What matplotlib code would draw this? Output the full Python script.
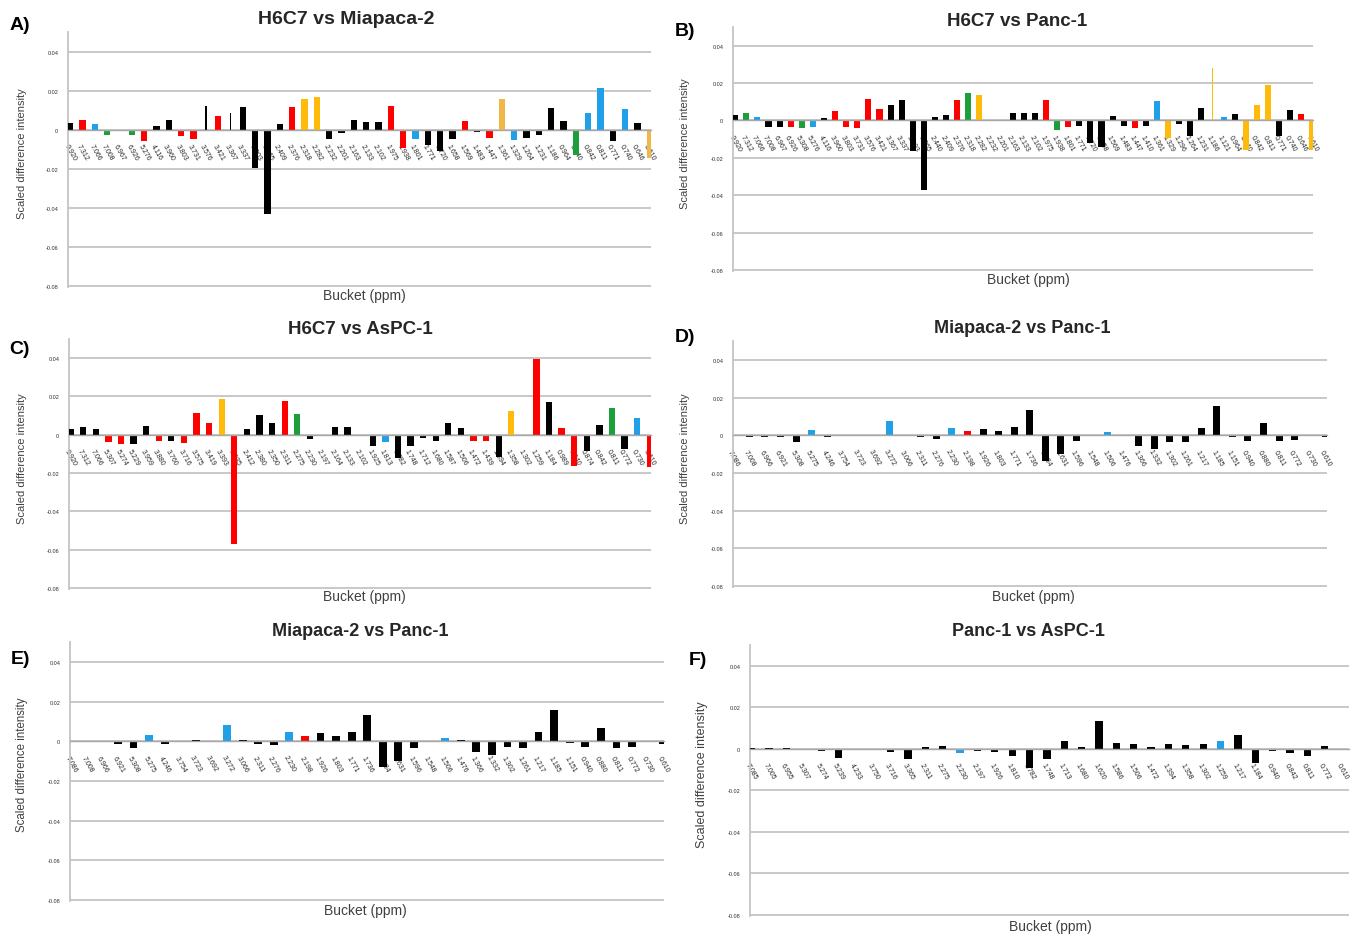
import numpy as np
import matplotlib.pyplot as plt

plt.rcParams['font.family'] = ['Liberation Sans', 'DejaVu Sans']

# bar colour codes: k black, r red, b blue, g green, o orange, y pale orange
COLORS = {'k': '#000000', 'r': '#FF0000', 'b': '#1FA0E8', 'g': '#1C9E3A',
          'o': '#FFBA0A', 'y': '#F0B846'}

# ---- A) H6C7 vs Miapaca-2 ----
buckets_a = ["9.920", "7.312", "7.066", "7.008", "6.967", "6.926", "5.276", "4.116", "3.960", "3.803",
             "3.731", "3.576", "3.421", "3.367", "3.337", "3.203", "3.065", "2.409", "2.376", "2.318",
             "2.282", "2.232", "2.201", "2.163", "2.133", "2.102", "1.975", "1.938", "1.801", "1.771",
             "1.720", "1.658", "1.569", "1.483", "1.447", "1.361", "1.329", "1.264", "1.231", "1.186",
             "0.964", "0.940", "0.842", "0.811", "0.771", "0.740", "0.646", "0.610"]
diff_a = [0.0033, 0.005, 0.003, -0.0025, 0.0, -0.0025, -0.006, 0.002, 0.005, -0.003,
          -0.005, 0.012, 0.007, 0.0083, 0.0115, -0.0195, -0.0432, 0.003, 0.0115, 0.0155,
          0.0165, -0.005, -0.0015, 0.005, 0.004, 0.004, 0.012, -0.0095, -0.005, -0.008,
          -0.011, -0.005, 0.0045, -0.001, -0.004, 0.0155, -0.0055, -0.0045, -0.0025, 0.011,
          0.0045, -0.013, 0.0085, 0.0214, -0.006, 0.0105, 0.0035, -0.0145]
colors_a = "krbgkgrkkr" "rkrkkkkkro" "okkkkkrrbk" "kkrkrybkkk" "kgbbkbky"

# ---- B) H6C7 vs Panc-1 ----
buckets_b = ["9.920", "7.312", "7.066", "7.008", "6.967", "6.926", "5.308", "5.276", "4.116", "3.960",
             "3.803", "3.731", "3.576", "3.421", "3.367", "3.337", "3.203", "3.065", "2.440", "2.409",
             "2.376", "2.318", "2.282", "2.232", "2.201", "2.163", "2.133", "2.102", "1.975", "1.938",
             "1.801", "1.771", "1.720", "1.658", "1.569", "1.483", "1.447", "1.410", "1.361", "1.329",
             "1.296", "1.264", "1.231", "1.186", "1.121", "0.964", "0.940", "0.842", "0.811", "0.771",
             "0.740", "0.646", "0.610"]
diff_b = [0.0032, 0.0039, 0.002, -0.0034, -0.0034, -0.0034, -0.0039, -0.0034, 0.0015, 0.005,
          -0.0034, -0.0042, 0.0115, 0.0064, 0.0081, 0.011, -0.0165, -0.0373, 0.002, 0.003,
          0.011, 0.0145, 0.0136, -0.0003, 0.0, 0.004, 0.004, 0.004, 0.011, -0.0051,
          -0.0034, -0.003, -0.0119, -0.0142, 0.0025, -0.003, -0.0038, -0.003, 0.0104, -0.0094,
          -0.002, -0.0083, 0.0067, 0.028, 0.002, 0.0033, -0.0159, 0.0081, 0.0191, -0.0083,
          0.0055, 0.0035, -0.0159]
colors_b = "kgbkkrgbkr" "rrrrkkkkkk" "rgokkkkkrg" "rkkkkkrkbo" "kkkobkoook" "kro"

# ---- C) H6C7 vs AsPC-1 ----
buckets_c = ["9.920", "7.312", "7.066", "5.307", "5.274", "5.229", "3.959", "3.880", "3.760", "3.716",
             "3.575", "3.419", "3.393", "3.035", "2.412", "2.380", "2.350", "2.311", "2.275", "2.230",
             "2.197", "2.164", "2.133", "2.102", "1.925", "1.813", "1.782", "1.748", "1.712", "1.680",
             "1.587", "1.506", "1.472", "1.439", "1.394", "1.358", "1.302", "1.259", "1.184", "0.989",
             "0.940", "0.874", "0.842", "0.811", "0.772", "0.730", "0.610"]
diff_c = [0.0031, 0.0042, 0.0028, -0.004, -0.0047, -0.0047, 0.0047, -0.0033, -0.0035, -0.0045,
          0.0113, 0.0062, 0.0185, -0.057, 0.0028, 0.0104, 0.0064, 0.0177, 0.0107, -0.0024,
          -0.0006, 0.0042, 0.0042, 0.0, -0.006, -0.004, -0.0121, -0.006, -0.0017, -0.0035,
          0.006, 0.0036, -0.0033, -0.0033, -0.0116, 0.0123, 0.0, 0.0393, 0.0173, 0.0035,
          -0.0165, -0.0083, 0.005, 0.014, -0.0074, 0.0087, -0.017]
colors_c = "kkkrrkkrkr" "rrorkkkrgk" "kkkkkbkkkk" "kkrrkokrkr" "rkkgkbr"

# ---- D) Miapaca-2 vs Panc-1 ----
buckets_d = ["7.086", "7.008", "6.966", "6.921", "5.308", "5.275", "4.246", "3.754", "3.723", "3.692",
             "3.272", "3.066", "2.311", "2.276", "2.230", "2.198", "1.926", "1.803", "1.771", "1.736",
             "1.684", "1.631", "1.596", "1.548", "1.506", "1.476", "1.366", "1.332", "1.302", "1.261",
             "1.217", "1.185", "1.151", "0.940", "0.880", "0.811", "0.772", "0.730", "0.610"]
diff_d = [0.0, -0.0008, -0.001, -0.001, -0.0035, 0.003, -0.001, 0.0, 0.0, 0.0,
          0.0076, 0.0, -0.001, -0.002, 0.004, 0.0021, 0.0035, 0.0025, 0.0046, 0.0133,
          -0.0135, -0.0101, -0.0032, 0.0, 0.0015, 0.0, -0.0055, -0.0074, -0.0035, -0.0035,
          0.004, 0.0156, -0.001, -0.003, 0.0064, -0.003, -0.0025, -0.0005, -0.0008]
colors_d = "kkkkkbkkkk" "bkkkbrkkkk" "kkkkbkkkkk" "kkkkkkkkk"

# ---- E) Miapaca-2 vs Panc-1 ----
buckets_e = list(buckets_d)
diff_e = [-0.0005, -0.0003, -0.0003, -0.0015, -0.0035, 0.0029, -0.0015, -0.0003, 0.0007, -0.0003,
          0.0082, 0.0005, -0.0015, -0.0018, 0.0047, 0.0025, 0.0043, 0.0025, 0.0047, 0.0134,
          -0.0131, -0.010, -0.0032, -0.0003, 0.0015, 0.0008, -0.0052, -0.0071, -0.003, -0.0035,
          0.0047, 0.0155, -0.001, -0.003, 0.0067, -0.0032, -0.0028, -0.0003, -0.0015]
colors_e = colors_d

# ---- F) Panc-1 vs AsPC-1 ----
buckets_f = ["7.085", "7.005", "6.955", "5.307", "5.274", "5.239", "4.233", "3.750", "3.716", "3.365",
             "2.311", "2.275", "2.230", "2.197", "1.926", "1.810", "1.782", "1.748", "1.713", "1.680",
             "1.620", "1.586", "1.506", "1.472", "1.394", "1.358", "1.302", "1.259", "1.217", "1.184",
             "0.940", "0.842", "0.811", "0.772", "0.610"]
diff_f = [0.0003, 0.0005, 0.0005, 0.0, -0.001, -0.0043, -0.0005, 0.0, -0.0017, -0.0048,
          0.0008, 0.0013, -0.0022, -0.001, -0.0013, -0.0035, -0.009, -0.0051, 0.0038, 0.0008,
          0.0134, 0.003, 0.0022, 0.0008, 0.0022, 0.0018, 0.0022, 0.0038, 0.0067, -0.0069,
          -0.001, -0.0022, -0.0035, 0.0013, -0.0008]
colors_f = "kkkkkkkkkk" "kkbkkkkkkk" "kkkkkkkbkk" "kkkkk"

y_ticks = [-0.08, -0.06, -0.04, -0.02, 0, 0.02, 0.04]
y_ticklabels = ['-0.08', '-0.06', '-0.04', '-0.02', '0', '0.02', '0.04']

W, H = 1361, 937
fig = plt.figure(figsize=(W / 100, H / 100), dpi=100)


def rect(left, top, right, bottom):
    return [left / W, 1 - bottom / H, (right - left) / W, (bottom - top) / H]


# letter, title, data, axes box (px), xlim pads, bar width, thin bars,
# title/label anchor points (px), fonts
panels = [
    dict(tag='A)', title='H6C7 vs Miapaca-2', buckets=buckets_a, diff=diff_a, cols=colors_a,
         box=(68, 33, 651, 288), pad=(0.18, 0.1), width=0.5, thin=[11, 13],
         tag_xy=(20, 26), title_xy=(346, 20), title_fs=14, ylab_xy=(22, 154), ylab_fs=8,
         xlab_xy=(364, 296)),
    dict(tag='B)', title='H6C7 vs Panc-1', buckets=buckets_b, diff=diff_b, cols=colors_b,
         box=(733, 28, 1313, 272), pad=(0.2, 0.05), width=0.55, thin=[43],
         tag_xy=(685, 31), title_xy=(1017, 21), title_fs=13.5, ylab_xy=(685.5, 144), ylab_fs=8,
         xlab_xy=(1028, 280)),
    dict(tag='C)', title='H6C7 vs AsPC-1', buckets=buckets_c, diff=diff_c, cols=colors_c,
         box=(69, 340, 651, 590), pad=(0.13, 0.1), width=0.5, thin=[],
         tag_xy=(20, 349), title_xy=(360, 330), title_fs=13.5, ylab_xy=(22, 459), ylab_fs=8,
         xlab_xy=(364, 597)),
    dict(tag='D)', title='Miapaca-2 vs Panc-1', buckets=buckets_d, diff=diff_d, cols=colors_d,
         box=(733, 342, 1327, 588), pad=(0.05, 0.08), width=0.45, thin=[],
         tag_xy=(685, 337), title_xy=(1022, 329), title_fs=13, ylab_xy=(685, 459), ylab_fs=8,
         xlab_xy=(1033, 597)),
    dict(tag='E)', title='Miapaca-2 vs Panc-1', buckets=buckets_e, diff=diff_e, cols=colors_e,
         box=(70, 643, 664, 902), pad=(0.08, 0.05), width=0.5, thin=[],
         tag_xy=(20, 660), title_xy=(360, 631), title_fs=13, ylab_xy=(22, 765), ylab_fs=8.3,
         xlab_xy=(365, 911)),
    dict(tag='F)', title='Panc-1 vs AsPC-1', buckets=buckets_f, diff=diff_f, cols=colors_f,
         box=(750, 646, 1349, 917), pad=(0.1, 0.4), width=0.42, thin=[],
         tag_xy=(698, 661), title_xy=(1028, 632), title_fs=13, ylab_xy=(701.5, 775), ylab_fs=9,
         xlab_xy=(1050, 927)),
]

for p in panels:
    ax = fig.add_axes(rect(*p['box']))
    n = len(p['diff'])
    x = np.arange(n)
    widths = [0.12 if i in p['thin'] else p['width'] for i in range(n)]
    ax.bar(x, p['diff'], width=widths, color=[COLORS[c] for c in p['cols']], zorder=3)

    # category axis sits on the zero line; set this before styling the ticks,
    # since moving the spine resets them
    for side in ('top', 'right'):
        ax.spines[side].set_visible(False)
    ax.spines['left'].set_color('#C4C4C4')
    ax.spines['left'].set_linewidth(1.3)
    ax.spines['bottom'].set_position(('data', 0))
    ax.spines['bottom'].set_color('#A8A8A8')
    ax.spines['bottom'].set_linewidth(1.0)
    ax.spines['bottom'].set_zorder(4)

    ax.set_xlim(-p['pad'][0], n - 1 + p['pad'][1])
    ax.set_ylim(-0.0805, 0.05)
    ax.set_yticks(y_ticks)
    ax.set_yticklabels(y_ticklabels, fontsize=4, color='#303030')
    ax.yaxis.grid(True, color='#C4C4C4', linewidth=1.3)
    ax.set_axisbelow(True)
    ax.tick_params(axis='y', length=0, pad=7)

    ax.set_xticks(x)
    ax.set_xticklabels(p['buckets'], rotation=-60, ha='center', va='center',
                       rotation_mode='anchor', fontsize=5, color='#262626')
    ax.tick_params(axis='x', length=0, pad=16)

    fig.text(p['tag_xy'][0] / W, 1 - p['tag_xy'][1] / H, p['tag'], fontsize=14,
             fontweight='bold', ha='center', va='center')
    fig.text(p['title_xy'][0] / W, 1 - p['title_xy'][1] / H, p['title'],
             fontsize=p['title_fs'], fontweight='bold', color='#262626',
             ha='center', va='center')
    fig.text(p['ylab_xy'][0] / W, 1 - p['ylab_xy'][1] / H, 'Scaled difference intensity',
             fontsize=p['ylab_fs'], rotation=90, color='#404040', ha='center', va='center')
    fig.text(p['xlab_xy'][0] / W, 1 - p['xlab_xy'][1] / H, 'Bucket (ppm)',
             fontsize=10, color='#404040', ha='center', va='center')

fig.savefig('out.png', dpi=100, facecolor='white')
